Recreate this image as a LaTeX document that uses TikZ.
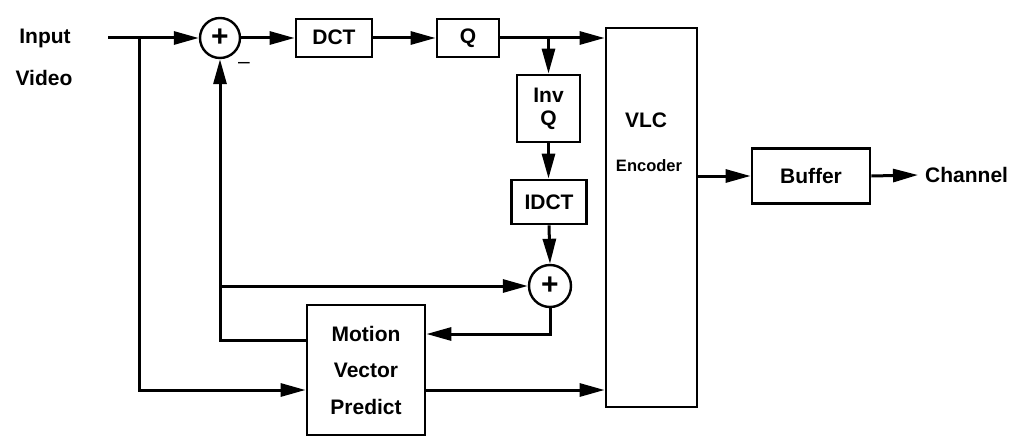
\documentclass[tikz,border=0pt]{standalone}
\usepackage{fontspec}
\setmainfont{Liberation Sans}
\usetikzlibrary{arrows.meta}
\begin{document}
\begin{tikzpicture}[x=1pt,y=-1pt,
  every node/.style={font=\fontsize{21}{25}\selectfont\bfseries},
  blk/.style={draw,line width=2.8pt,inner sep=0pt},
  sumnode/.style={draw,circle,line width=2.4pt,minimum size=40pt,inner sep=0pt,font=\fontsize{30}{30}\selectfont\bfseries},
  conn/.style={line width=3pt},
  arr/.style={conn,-{Triangle[length=25pt,width=13pt]}},
  txt/.style={inner sep=0pt}]
\useasboundingbox (0,0) rectangle (1015,436);
% text labels
\node[txt] (inp) at (45,38) {Input};
\node[txt] (vid) at (44,78) {Video};
\coordinate (start) at (108,38);
\coordinate (br1) at (139,38);
% blocks
\node[sumnode] (s1) at (220,38) {\raisebox{1pt}{+}};
\node[txt,font=\fontsize{21}{25}\selectfont] (minus) at (244,65) {–};
\node[blk,minimum width=76pt,minimum height=38pt] (dct) at (334,38) {\raisebox{2pt}{DCT}};
\node[blk,minimum width=62pt,minimum height=38pt] (q) at (468,38) {\raisebox{3pt}{Q}};
\node[blk,minimum width=91pt,minimum height=379pt] (vlc) at (651.5,217.5) {};
\node[txt] (vlct) at (646,120) {VLC};
\node[txt,font=\fontsize{16.5}{20}\selectfont\bfseries] (enct) at (649,166) {Encoder};
\node[blk,minimum width=63pt,minimum height=67pt,align=center,
      font=\fontsize{21}{23}\selectfont\bfseries] (invq) at (548.5,108.5) {Inv\\Q};
\node[blk,minimum width=75pt,minimum height=44pt] (idct) at (549,202) {IDCT};
\node[sumnode,minimum size=42pt] (s2) at (550,286) {\raisebox{1pt}{+}};
\node[blk,minimum width=118pt,minimum height=130pt,align=center,
      font=\fontsize{21}{36.5}\selectfont\bfseries] (mv) at (366,370) {Motion\\Vector\\Predict};
\node[blk,minimum width=118pt,minimum height=55pt] (buf) at (811,176) {Buffer};
\node[txt,anchor=west] (chan) at (925,175) {Channel};
% helper coordinates on the motion block sides
\coordinate (mvin) at ([yshift=-20pt]mv.west);
\coordinate (mvfb) at ([yshift=30pt]mv.west);
\coordinate (mvrec) at ([yshift=36pt]mv.east);
\coordinate (mvout) at ([yshift=-20pt]mv.east);
\coordinate (qb) at (invq.north |- q.east);
% connectors
\draw[arr] (start) -- (s1.west);
\draw[arr] (br1) |- (mvin);
\draw[arr] (s1.east) -- (dct.west);
\draw[arr] (dct.east) -- (q.west);
\draw[arr] (q.east) -- (vlc.west |- q.east);
\draw[arr] (qb) -- (invq.north);
\draw[arr] (invq.south) -- (idct.north -| invq.south);
\draw[arr] (idct.south) -- (s2.north);
\draw[arr] (s2.south) |- (mvrec);
\draw[arr] (mvfb) -| (s1.south);
\draw[arr] (s1.south |- s2.west) -- (s2.west);
\draw[arr] (mvout) -- (vlc.west |- mvout);
\draw[arr] (vlc.east |- buf.west) -- (buf.west);
\draw[arr] (buf.east) -- ([xshift=-7pt]chan.west);
\end{tikzpicture}
\end{document}
